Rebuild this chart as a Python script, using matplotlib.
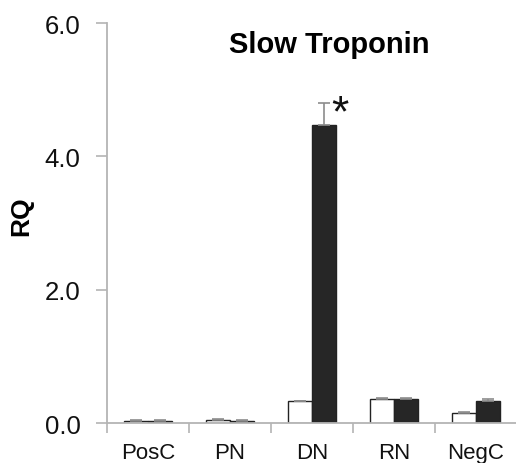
import matplotlib
matplotlib.use("Agg")
import matplotlib.pyplot as plt
import numpy as np

plt.rcParams['font.family'] = ['Liberation Sans', 'DejaVu Sans']

groups = ["PosC", "PN", "DN", "RN", "NegC"]
open_vals = [0.03, 0.05, 0.33, 0.36, 0.145]
open_err = [0.01, 0.01, 0.0, 0.01, 0.015]
filled_vals = [0.03, 0.03, 4.47, 0.36, 0.33]
filled_err = [0.01, 0.01, 0.33, 0.02, 0.03]
y_ticks = [0.0, 2.0, 4.0, 6.0]
y_ticklabels = ["0.0", "2.0", "4.0", "6.0"]

fig = plt.figure(figsize=(5.16, 4.64), dpi=100)
ax = fig.add_axes([0.2074, 0.0862, 0.7946, 0.862])

x = np.arange(len(groups))
w = 0.29
spine_col = "#b4b4b4"
err_kw = dict(ecolor="#8c8c8c", elinewidth=1.2, capsize=4, capthick=1.2)

ax.bar(x - w / 2, open_vals, w, color="white", edgecolor="#222222", linewidth=1.0,
       yerr=[np.zeros(len(groups)), open_err], error_kw=err_kw, zorder=2)
ax.bar(x + w / 2, filled_vals, w, color="#262626", edgecolor="#222222", linewidth=1.0,
       yerr=[np.zeros(len(groups)), filled_err], error_kw=err_kw, zorder=2)

ax.text(2 + w / 2 + 0.2, 4.64, "*", fontsize=32, ha="center", va="center", color="#111111")

ax.set_xlim(-0.5, len(groups) - 0.5)
ax.set_ylim(0, 6.0)
ax.set_yticks(y_ticks)
ax.set_yticklabels(y_ticklabels, fontsize=18.5, color="#111111")
ax.set_xticks(x)
ax.set_xticklabels(groups, fontsize=16, color="#111111")
ax.set_xticks(np.arange(len(groups) + 1) - 0.5, minor=True)
ax.tick_params(axis="x", which="major", length=0, pad=14)
ax.tick_params(axis="x", which="minor", length=7, width=1.2, color=spine_col, direction="out")
ax.tick_params(axis="y", length=8, width=1.2, color=spine_col, direction="out", pad=11)

for s in ["top", "right"]:
    ax.spines[s].set_visible(False)
for s in ["left", "bottom"]:
    ax.spines[s].set_color(spine_col)
    ax.spines[s].set_linewidth(1.3)

ax.set_ylabel("RQ", fontsize=19, fontweight="bold")
ax.yaxis.set_label_coords(-0.18, 0.52)
ax.text(0.541, 0.947, "Slow Troponin", transform=ax.transAxes, fontsize=21,
        fontweight="bold", ha="center", va="center")

fig.savefig("out.png", dpi=100)
